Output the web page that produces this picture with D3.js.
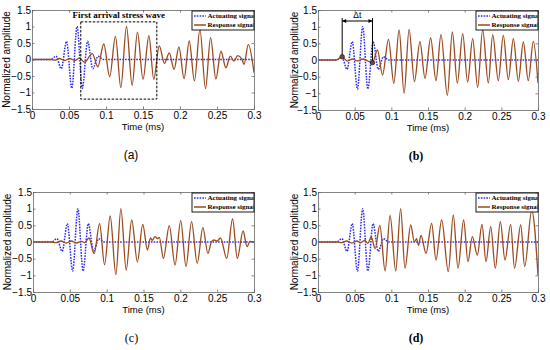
<!DOCTYPE html>
<html>
<head>
<meta charset="utf-8">
<script src="https://cdn.jsdelivr.net/npm/d3@7"></script>
<style>
  html, body { margin: 0; padding: 0; background: #fff; }
  svg { display: block; }
</style>
</head>
<body>
<svg id="chart" width="550" height="350"></svg>
<script>
// ---------- data ----------
const timeTicks = [0, 0.05, 0.1, 0.15, 0.2, 0.25, 0.3];
const ampTicks = [-1.5, -1, -0.5, 0, 0.5, 1, 1.5];
const panelLabels = ["(a)", "(b)", "(c)", "(d)"];
const seriesNames = ["Actuating signal", "Response signal"];

// actuating tone burst: [time (ms), amplitude] at extrema
const actuating = [
  [0, 0], [0.0255, 0], [0.0325, 0.1], [0.0396, -0.28], [0.0467, 0.55], [0.0538, -0.87],
  [0.0609, 1.0], [0.068, -0.87], [0.0751, 0.55], [0.0822, -0.28], [0.0893, 0.1],
  [0.0965, 0], [0.3, 0]
];

const responseA = [
  [0, 0], [0.026, 0], [0.031, -0.02], [0.037, 0.03], [0.044, -0.03], [0.051, 0.03],
  [0.058, -0.03], [0.064, 0.04], [0.071, -0.08], [0.0815, 0.18], [0.089, -0.22],
  [0.097, 0.47], [0.105, -0.52], [0.1128, 0.7], [0.12, -0.85], [0.1277, 1.0],
  [0.1353, -0.78], [0.1425, 0.83], [0.150, -0.6], [0.158, 0.72], [0.1645, -0.6],
  [0.172, 0.41], [0.179, -0.12], [0.1855, 0.2], [0.192, -0.3], [0.1985, 0.38],
  [0.2055, -0.58], [0.2125, 0.56], [0.2195, -0.65], [0.2269, 0.91], [0.2345, -0.88],
  [0.2413, 0.66], [0.2485, -0.59], [0.2553, 0.25], [0.262, -0.25], [0.268, 0.1],
  [0.273, -0.05], [0.278, 0.12], [0.2835, 0.02], [0.2865, -0.15], [0.2923, 0.46],
  [0.3, -0.4]
];

const responseB = [
  [0, 0], [0.025, 0], [0.033, 0.1], [0.04, -0.03], [0.047, 0.03], [0.054, -0.03],
  [0.061, 0.03], [0.068, -0.03], [0.0743, -0.08], [0.081, 0.3], [0.088, -0.45],
  [0.0961, 0.62], [0.1034, -0.7], [0.1106, 0.9], [0.1174, -1.0], [0.1242, 0.92],
  [0.1315, -0.65], [0.139, 0.55], [0.1459, -0.55], [0.1536, 0.66], [0.1609, -0.62],
  [0.1677, 0.76], [0.1764, -1.06], [0.1832, 0.84], [0.19, -0.69], [0.1973, 0.79],
  [0.204, -0.66], [0.2109, 0.64], [0.2177, -0.82], [0.2245, 0.91], [0.2323, -0.69],
  [0.2382, 0.76], [0.2459, -0.62], [0.2527, 0.74], [0.2595, -0.59], [0.2664, 0.64],
  [0.2732, -0.64], [0.28, 0.54], [0.2868, -0.62], [0.2936, 0.56], [0.3, -0.69]
];

const responseC = [
  [0, 0], [0.025, 0], [0.031, -0.02], [0.038, 0.03], [0.045, -0.03], [0.052, 0.03],
  [0.059, -0.03], [0.066, 0.02], [0.07, -0.02], [0.076, 0.12], [0.083, -0.35],
  [0.0904, 0.55], [0.0971, -0.68], [0.1048, 0.78], [0.1125, -0.98], [0.1193, 1.0],
  [0.1265, -0.84], [0.134, 0.66], [0.1417, -0.6], [0.149, 0.53], [0.1553, -0.24],
  [0.1595, 0.12], [0.162, 0.05], [0.1655, 0.16], [0.169, 0.1], [0.1715, 0.14],
  [0.177, -0.49], [0.185, 0.49], [0.1928, -0.69], [0.2005, 0.64], [0.2077, -0.74],
  [0.2152, 0.61], [0.2229, -0.64], [0.2306, 0.43], [0.2374, -0.34], [0.2425, 0.02],
  [0.246, 0.06], [0.25, 0.03], [0.2545, 0.12], [0.263, -0.49], [0.2709, 0.69],
  [0.2773, -0.49], [0.2852, 0.33], [0.2906, -0.14], [0.2945, 0.02], [0.3, 0]
];

const responseD = [
  [0, 0], [0.026, 0], [0.032, -0.02], [0.039, 0.03], [0.046, -0.03], [0.053, 0.03],
  [0.058, -0.02], [0.064, 0.05], [0.068, -0.04], [0.0725, 0.15], [0.078, -0.2],
  [0.0843, 0.5], [0.0915, -0.87], [0.0983, 0.8], [0.106, -0.87], [0.1127, 1.0],
  [0.1186, -0.79], [0.1264, 0.51], [0.1315, 0.0], [0.1345, 0.1], [0.137, -0.1],
  [0.1405, 0.2], [0.1473, -0.34], [0.155, 0.56], [0.1609, -0.54], [0.1686, 0.66],
  [0.1777, -0.89], [0.1845, 0.81], [0.1909, -0.79], [0.1986, 0.66], [0.2045, -0.59],
  [0.2105, 0.16], [0.2173, -0.39], [0.2236, 0.53], [0.2291, -0.59], [0.2355, 0.46],
  [0.2418, -0.79], [0.2486, 0.61], [0.255, -0.54], [0.2627, 0.53], [0.268, -0.79],
  [0.2764, 0.51], [0.2818, -0.74], [0.2915, 0.95], [0.3, -1.0]
];

// annotations
const firstArrivalBox = { t0: 0.0659, t1: 0.1687, a0: -1.2, a1: 1.14, label: "First arrival stress wave" };
const deltaT = { t0: 0.033, a0: 0.1, t1: 0.0743, a1: -0.08, label: "\u0394t" };

// ---------- layout ----------
const panels = [
  { left: 32, right: 254, top: 10, bottom: 109, resp: responseA, label: panelLabels[0], labFont: "'Liberation Sans', Arial, sans-serif", labWeight: "normal", ylabX: 7 },
  { left: 318, right: 538, top: 10, bottom: 110, resp: responseB, label: panelLabels[1], labFont: "'Liberation Serif', 'Times New Roman', serif", labWeight: "bold", ylabX: 295 },
  { left: 33, right: 254, top: 192, bottom: 292, resp: responseC, label: panelLabels[2], labFont: "'Liberation Serif', 'Times New Roman', serif", labWeight: "normal", ylabX: 8 },
  { left: 318, right: 538, top: 192, bottom: 292, resp: responseD, label: panelLabels[3], labFont: "'Liberation Serif', 'Times New Roman', serif", labWeight: "bold", ylabX: 295 }
];

const BLUE = "#2b2bf0";
const BROWN = "#9a4a1e";
const AXIS = "#666";
const SANS = "'Liberation Sans', Arial, sans-serif";
const SERIF = "'Liberation Serif', 'Times New Roman', serif";

const svg = d3.select("#chart");

panels.forEach((p, i) => {
  const x = d3.scaleLinear().domain([0, 0.3]).range([p.left, p.right]);
  const y = d3.scaleLinear().domain([-1.5, 1.5]).range([p.bottom, p.top]);
  const g = svg.append("g");

  const line = d3.line().x(d => x(d[0])).y(d => y(d[1])).curve(d3.curveMonotoneX);

  const clipId = "clip" + i;
  svg.append("clipPath").attr("id", clipId).append("rect")
    .attr("x", p.left).attr("y", p.top).attr("width", p.right - p.left).attr("height", p.bottom - p.top);

  // axes (inward ticks, MATLAB style)
  const tl = 2.5;
  const xAxis = d3.axisBottom(x).tickValues(timeTicks).tickSize(-tl).tickPadding(1).tickFormat(d3.format("~g"));
  const xAxisTop = d3.axisTop(x).tickValues(timeTicks).tickSize(-tl).tickFormat("");
  const yAxis = d3.axisLeft(y).tickValues(ampTicks).tickSize(-tl).tickPadding(1).tickFormat(d3.format("~g"));
  const yAxisRight = d3.axisRight(y).tickValues(ampTicks).tickSize(-tl).tickFormat("");

  const styleAxis = sel => {
    sel.selectAll(".domain").attr("stroke", AXIS).attr("stroke-width", 0.8);
    sel.selectAll(".tick line").attr("stroke", AXIS).attr("stroke-width", 0.8);
    sel.selectAll("text").attr("font-family", SANS).attr("font-size", 10).attr("fill", "#000");
  };

  // data lines
  const lines = g.append("g").attr("clip-path", `url(#${clipId})`);
  lines.append("path").datum(actuating).attr("d", line)
    .attr("fill", "none").attr("stroke", BLUE).attr("stroke-width", 1.5)
    .attr("stroke-dasharray", "1.6,1.2");
  lines.append("path").datum(p.resp).attr("d", line)
    .attr("fill", "none").attr("stroke", BROWN).attr("stroke-width", 1.3);

  g.append("g").attr("transform", `translate(0,${p.bottom})`).call(xAxis).call(styleAxis)
    .selectAll("text").attr("y", 9.5).attr("dy", 0);
  g.append("g").attr("transform", `translate(0,${p.top})`).call(xAxisTop).call(styleAxis);
  g.append("g").attr("transform", `translate(${p.left},0)`).call(yAxis).call(styleAxis);
  g.append("g").attr("transform", `translate(${p.right},0)`).call(yAxisRight).call(styleAxis);

  // axis titles
  g.append("text").attr("x", (p.left + p.right) / 2).attr("y", p.bottom + 20.5)
    .attr("text-anchor", "middle").attr("font-family", SANS).attr("font-size", 9.5)
    .text("Time (ms)");
  g.append("text").attr("transform", `translate(${p.ylabX},${(p.top + p.bottom) / 2}) rotate(-90)`)
    .attr("text-anchor", "middle").attr("dominant-baseline", "middle")
    .attr("font-family", SANS).attr("font-size", 10)
    .text("Normalized amplitude");

  // panel label
  g.append("text").attr("x", (p.left + p.right) / 2 - 12).attr("y", p.bottom + 50)
    .attr("text-anchor", "middle").attr("font-family", p.labFont).attr("font-weight", p.labWeight)
    .attr("font-size", 12).text(p.label);

  // legend
  const lw = 62, lh = 19;
  const lx = p.right - lw, ly = p.top + 1;
  const lg = g.append("g");
  const legClip = "legclip" + i;
  svg.append("clipPath").attr("id", legClip).append("rect")
    .attr("x", lx).attr("y", ly).attr("width", lw - 0.5).attr("height", lh);
  lg.append("rect").attr("x", lx).attr("y", ly).attr("width", lw).attr("height", lh)
    .attr("fill", "#fff").attr("stroke", "#000").attr("stroke-width", 0.9);
  const items = lg.append("g").attr("clip-path", `url(#${legClip})`);
  [[BLUE, "1.6,1.2", 1.5], [BROWN, null, 1.3]].forEach((s, k) => {
    const yy = ly + 5 + k * 9;
    items.append("line").attr("x1", lx + 2).attr("x2", lx + 14).attr("y1", yy).attr("y2", yy)
      .attr("stroke", s[0]).attr("stroke-width", s[2]).attr("stroke-dasharray", s[1]);
    items.append("text").attr("x", lx + 15.5).attr("y", yy).attr("dominant-baseline", "middle")
      .attr("font-family", SERIF).attr("font-weight", "bold").attr("font-size", 7)
      .text(seriesNames[k]);
  });

  // annotations
  if (i === 0) {
    const b = firstArrivalBox;
    g.append("rect").attr("x", x(b.t0)).attr("y", y(b.a1))
      .attr("width", x(b.t1) - x(b.t0)).attr("height", y(b.a0) - y(b.a1))
      .attr("fill", "none").attr("stroke", "#000").attr("stroke-width", 1)
      .attr("stroke-dasharray", "2.5,1.5");
    g.append("text").attr("x", (x(b.t0) + x(b.t1)) / 2).attr("y", y(b.a1) - 4)
      .attr("text-anchor", "middle").attr("font-family", SERIF).attr("font-weight", "bold")
      .attr("font-size", 9).text(b.label);
  }
  if (i === 1) {
    const d = deltaT;
    const ay = p.top + 11;
    const x0 = x(d.t0), x1 = x(d.t1);
    g.append("line").attr("x1", x0).attr("x2", x0).attr("y1", ay - 3).attr("y2", y(d.a0))
      .attr("stroke", "#000").attr("stroke-width", 1);
    g.append("line").attr("x1", x1).attr("x2", x1).attr("y1", ay - 3).attr("y2", y(d.a1))
      .attr("stroke", "#000").attr("stroke-width", 1);
    g.append("line").attr("x1", x0).attr("x2", x1).attr("y1", ay).attr("y2", ay)
      .attr("stroke", "#000").attr("stroke-width", 1);
    g.append("path").attr("d", `M${x0},${ay} l4,-2 l0,4 z`).attr("fill", "#000");
    g.append("path").attr("d", `M${x1},${ay} l-4,-2 l0,4 z`).attr("fill", "#000");
    g.append("text").attr("x", (x0 + x1) / 2).attr("y", ay - 3)
      .attr("text-anchor", "middle").attr("font-family", SANS).attr("font-size", 8.5)
      .text(d.label);
    [[d.t0, d.a0], [d.t1, d.a1]].forEach(pt => {
      g.append("circle").attr("cx", x(pt[0])).attr("cy", y(pt[1])).attr("r", 2.2)
        .attr("fill", "#7a3a5a").attr("stroke", "#222").attr("stroke-width", 0.8);
    });
  }
});
</script>
</body>
</html>
